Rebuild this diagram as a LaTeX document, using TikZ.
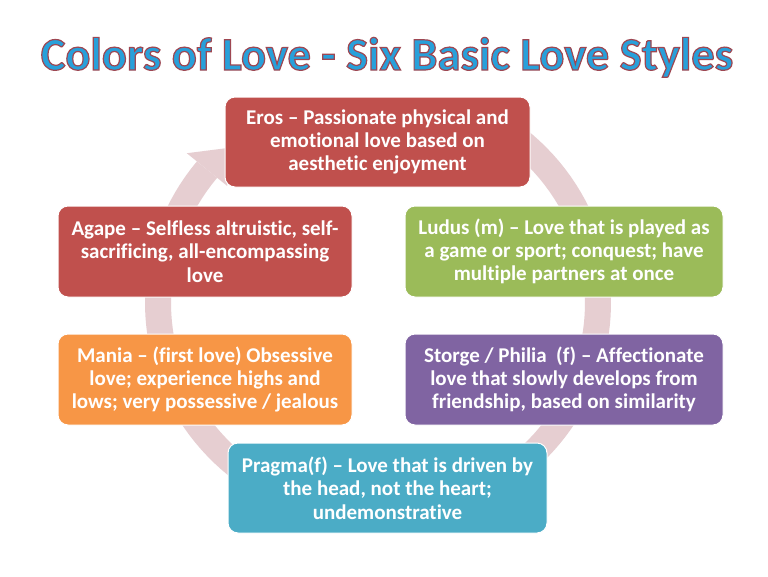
\documentclass[tikz,border=0pt]{standalone}
\usepackage{fontspec}
\setmainfont{Carlito}[Ligatures={TeX,NoCommon},RawFeature={-liga}]
\newfontfamily\titlefamily{Carlito}[Ligatures={TeX,NoCommon},RawFeature={-liga},BoldFeatures={FakeBold=2.6}]
\definecolor{ringcol}{RGB}{230,206,209}
\definecolor{erosred}{RGB}{192,80,77}
\definecolor{ludusgreen}{RGB}{155,187,89}
\definecolor{storgepurple}{RGB}{128,100,162}
\definecolor{maniaorange}{RGB}{247,150,70}
\definecolor{pragmateal}{RGB}{75,172,198}
\definecolor{titleblue}{RGB}{40,160,218}
\tikzset{
  lovebox/.style={rectangle, rounded corners=10pt, draw=white, line width=1pt,
    text=white, inner sep=0pt, align=center,
    font=\bfseries\fontsize{21}{23.3}\selectfont},
  titlefont/.style={font=\titlefamily\bfseries\fontsize{46.5}{50}\selectfont, anchor=base, inner sep=0pt}
}
\begin{document}
\begin{tikzpicture}[x=1pt,y=-1pt]
\fill[white] (0,0) rectangle (768,576);
\useasboundingbox (0,0) rectangle (768,576);
% title: blue fill with dark red stroke (fake bold stroke recoloured)
\node[titlefont, text=titleblue] (title) at (387,70) {\special{pdf:code 0.62 0.28 0.32 RG}Colors of Love - Six Basic Love Styles};
% circular arrow ring
\draw[ringcol, line width=26pt] plot[domain=-60:219, samples=120] ({378+220*cos(\x)},{303+212*sin(\x)});
\fill[ringcol] ({378+246*cos(219)},{303+238*sin(219)}) -- ({378+220*cos(227)},{303+212*sin(227)}) -- ({378+194*cos(219)},{303+186*sin(219)}) -- cycle;
% boxes
\node[lovebox, fill=erosred, minimum width=305pt, minimum height=90pt] (eros) at (377.5,142) {Eros – Passionate physical and\\emotional love based on\\aesthetic enjoyment};
\node[lovebox, fill=erosred, minimum width=294pt, minimum height=91pt] (agape) at (205,251.5) {Agape – Selfless altruistic, self-\\sacrificing, all-encompassing\\love};
\node[lovebox, fill=ludusgreen, minimum width=318pt, minimum height=91pt] (ludus) at (564,251.5) {Ludus (m) – Love that is played as\\a game or sport; conquest; have\\multiple partners at once};
\node[lovebox, fill=maniaorange, minimum width=294pt, minimum height=91pt] (mania) at (205,379.5) {Mania – (first love) Obsessive\\love; experience highs and\\lows; very possessive / jealous};
\node[lovebox, fill=storgepurple, minimum width=318pt, minimum height=91pt] (storge) at (564,379.5) {Storge / Philia\ \ (f) – Affectionate\\love that slowly develops from\\friendship, based on similarity};
\node[lovebox, fill=pragmateal, minimum width=319pt, minimum height=90pt] (pragma) at (387.5,488) {Pragma(f) – Love that is driven by\\the head, not the heart;\\undemonstrative};
\end{tikzpicture}
\end{document}
